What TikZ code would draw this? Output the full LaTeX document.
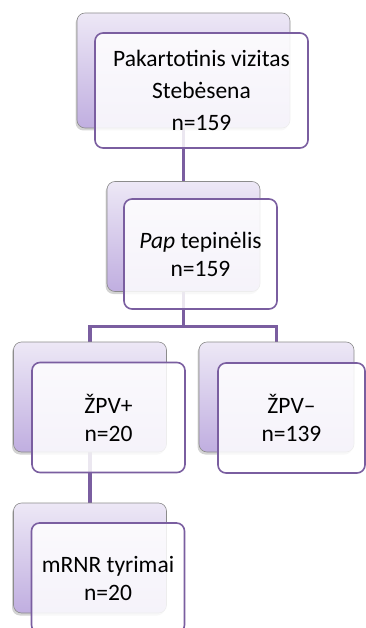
\documentclass[tikz,border=0pt]{standalone}
\usepackage{fontspec}
\setmainfont{Carlito}
\usetikzlibrary{backgrounds,shadows}
\definecolor{accent}{RGB}{122,94,160}
\definecolor{backtop}{RGB}{237,232,246}
\definecolor{backbot}{RGB}{192,174,224}
\begin{document}
\begin{tikzpicture}[x=1pt,y=-1pt,
  back/.style={rounded corners=8pt, draw=black!45, line width=0.6pt, top color=backtop, bottom color=backbot,
    drop shadow={shadow xshift=-1.5pt, shadow yshift=-2.5pt, opacity=0.35},
    minimum width=153pt, minimum height=110pt, inner sep=0pt},
  front/.style={rounded corners=8pt, draw=accent, line width=1.6pt, fill=white, fill opacity=0.85, text opacity=1,
    minimum width=153pt, minimum height=110pt, inner sep=0pt, align=center, font=\fontsize{23.5}{28}\selectfont},
  link/.style={draw=accent, line width=3.2pt}]
\useasboundingbox (0,0) rectangle (366,628);
\node[back, minimum width=213pt, minimum height=115pt] (b1) at (183.5,70.5) {};
\node[front, minimum width=213pt, minimum height=115pt] (f1) at (201.5,90.5) {Pakartotinis vizitas\\[4pt]Stebėsena\\[4pt]n=159};
\node[back] (b2) at (183.5,236.5) {};
\node[front] (f2) at (200.5,254) {\textit{Pap} tepinėlis\\n=159};
\node[back] (b3) at (90,397) {};
\node[front] (f3) at (108.5,417.5) {ŽPV+\\n=20};
\node[back, minimum width=155pt] (b4) at (276.5,397) {};
\node[front, minimum width=147pt] (f4) at (291.5,418) {ŽPV–\\n=139};
\node[back] (b5) at (90,558) {};
\node[front] (f5) at (108,578) {mRNR tyrimai\\n=20};
\begin{scope}[on background layer]
\draw[link] (b1.south) -- (b2.north);
\draw[link] (b2.south) -- ++(0,35) -| (b3.north);
\draw[link] (b2.south) -- ++(0,35) -| (b4.north);
\draw[link] (b3.south) -- (b5.north);
\end{scope}
\end{tikzpicture}
\end{document}
